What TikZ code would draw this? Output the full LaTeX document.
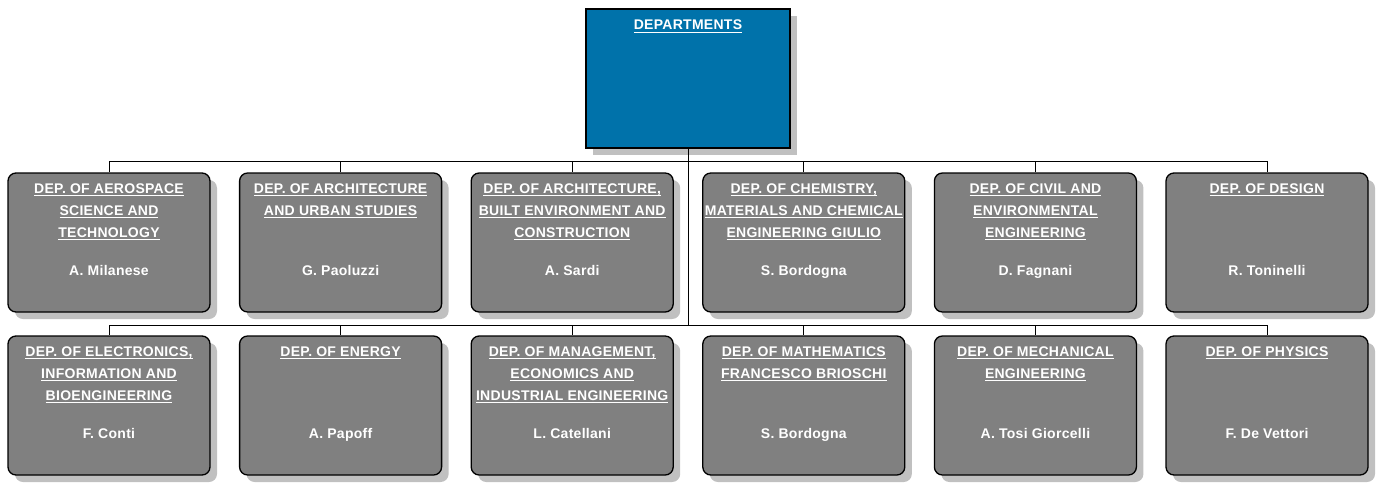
\documentclass[tikz,border=0pt]{standalone}
\usepackage{fontspec}
\setmainfont{Liberation Sans}
\usetikzlibrary{positioning,shadows}

\definecolor{deptblue}{RGB}{0,114,170}
\definecolor{deptgray}{RGB}{128,128,128}
\definecolor{shadegray}{RGB}{192,192,192}

% underlined title line
\newcommand\dline[1]{\setbox0=\hbox{#1}\rlap{\rule[-3pt]{\wd0}{1.3pt}}\box0}

\tikzset{
  headbox/.style={draw=black, line width=1.3pt, fill=deptblue,
    minimum width=204pt, minimum height=139pt, inner sep=0pt,
    drop shadow={shadow xshift=7pt, shadow yshift=-7pt, fill=shadegray, opacity=1}},
  unit/.style={draw=black, line width=1.3pt, rounded corners=8pt, fill=deptgray,
    minimum width=202pt, minimum height=139pt, inner sep=0pt,
    drop shadow={shadow xshift=7pt, shadow yshift=-7pt, fill=shadegray, opacity=1}},
  title/.style={text=white, inner sep=0pt, align=center,
    font=\bfseries\fontsize{14}{22}\selectfont\addfontfeature{LetterSpace=2}},
  link/.style={draw=black, line width=0.9pt}
}

\begin{document}
\begin{tikzpicture}[x=1pt,y=-1pt]
\useasboundingbox (0,0) rectangle (1377,483);

% Cabeza
\node[headbox] (head) at (688,78.5) {};
\node[title, below=11.5pt of head.north] (headtitle) {\dline{DEPARTMENTS}};

% Barras
\coordinate (bus1) at (688,161);
\coordinate (bus2) at (688,325);
\draw[link] (head.south) -- (bus2);

% Primera fila
\foreach \i/\t/\n in {
    0/{\dline{DEP. OF AEROSPACE}\\\dline{SCIENCE AND}\\\dline{TECHNOLOGY}}/{A. Milanese},
    1/{\dline{DEP. OF ARCHITECTURE}\\\dline{AND URBAN STUDIES}}/{G. Paoluzzi},
    2/{\dline{DEP. OF ARCHITECTURE,}\\\dline{BUILT ENVIRONMENT AND}\\\dline{CONSTRUCTION}}/{A. Sardi},
    3/{\dline{DEP. OF CHEMISTRY,}\\\dline{MATERIALS AND CHEMICAL}\\\dline{ENGINEERING GIULIO}}/{S. Bordogna},
    4/{\dline{DEP. OF CIVIL AND}\\\dline{ENVIRONMENTAL}\\\dline{ENGINEERING}}/{D. Fagnani},
    5/{\dline{DEP. OF DESIGN}}/{R. Toninelli}}
{
  \node[unit] (a\i) at (109+231.6*\i,242.5) {};
  \node[title, below=11pt of a\i.north] (at\i) {\t};
  \node[title, below=92.5pt of a\i.north] (an\i) {\n};
  \draw[link] (bus1) -| (a\i.north);
}

% Segunda fila
\foreach \i/\t/\n in {
    0/{\dline{DEP. OF ELECTRONICS,}\\\dline{INFORMATION AND}\\\dline{BIOENGINEERING}}/{F. Conti},
    1/{\dline{DEP. OF ENERGY}}/{A. Papoff},
    2/{\dline{DEP. OF MANAGEMENT,}\\\dline{ECONOMICS AND}\\\dline{INDUSTRIAL ENGINEERING}}/{L. Catellani},
    3/{\dline{DEP. OF MATHEMATICS}\\\dline{FRANCESCO BRIOSCHI}}/{S. Bordogna},
    4/{\dline{DEP. OF MECHANICAL}\\\dline{ENGINEERING}}/{A. Tosi Giorcelli},
    5/{\dline{DEP. OF PHYSICS}}/{F. De Vettori}}
{
  \node[unit] (b\i) at (109+231.6*\i,405.5) {};
  \node[title, below=11pt of b\i.north] (bt\i) {\t};
  \node[title, below=92.5pt of b\i.north] (bn\i) {\n};
  \draw[link] (bus2) -| (b\i.north);
}
\end{tikzpicture}
\end{document}
